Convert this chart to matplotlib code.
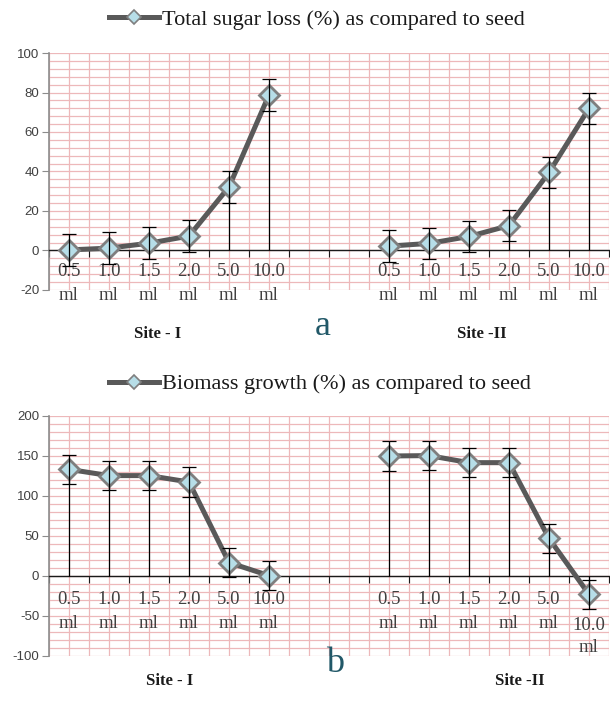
import matplotlib
matplotlib.use('Agg')
import matplotlib.pyplot as plt
import matplotlib.transforms as mtransforms
from matplotlib.lines import Line2D
from matplotlib.ticker import MultipleLocator

plt.rcParams['axes.unicode_minus'] = False

# categories: 6 doses per site, two empty slots between the sites
doses = ['0.5', '1.0', '1.5', '2.0', '5.0', '10.0']
site1_pos = [0, 1, 2, 3, 4, 5]
site2_pos = [8, 9, 10, 11, 12, 13]

# panel a: total sugar loss (%)
sugar_site1 = [0.3, 1.2, 3.7, 7.3, 32.2, 78.8]
sugar_site2 = [2.2, 3.6, 7.1, 12.6, 39.5, 72.0]
sugar_err = 8.0

# panel b: biomass growth (%)
bio_site1 = [133.3, 125.5, 125.5, 117.5, 16.8, 0.5]
bio_site2 = [150.0, 150.5, 141.7, 141.7, 47.0, -23.0]
bio_err = 18.5

LINE_C = '#595959'
FILL_C = '#B7DEE8'
EDGE_C = '#7F7F7F'
GRID_C = '#EDB8BA'
TEXT_C = '#404040'
SERIF = 'Liberation Serif'

W, H = 610, 704
fig = plt.figure(figsize=(W / 100, H / 100), dpi=100)


def px_axes(left, top, right, bottom):
    return fig.add_axes([left / W, 1 - bottom / H, (right - left) / W, (bottom - top) / H])


def draw_panel(ax, s1, s2, err, ylim, major, minor, legend_text, leg_xy,
               lab_y, low_last=None):
    ax.set_xlim(-0.5, 13.5)
    ax.set_ylim(*ylim)
    ax.yaxis.set_major_locator(MultipleLocator(major))
    ax.yaxis.set_minor_locator(MultipleLocator(minor))
    ax.xaxis.set_major_locator(MultipleLocator(1.0, offset=0.5))
    ax.xaxis.set_minor_locator(MultipleLocator(0.5))
    ax.grid(True, which='both', color=GRID_C, lw=0.9, zorder=0)
    ax.set_axisbelow(True)
    for s in ['top', 'right']:
        ax.spines[s].set_visible(False)
    ax.spines['left'].set_color('#8C8C8C')
    ax.spines['left'].set_linewidth(1.2)
    ax.spines['bottom'].set_position(('data', 0))
    ax.spines['bottom'].set_color('#1A1A1A')
    ax.spines['bottom'].set_linewidth(1.0)
    ax.tick_params(axis='y', which='major', length=5, color='#8C8C8C',
                   labelsize=9.5, labelcolor=TEXT_C, pad=2)
    ax.tick_params(axis='x', which='major', length=5, color='#1A1A1A',
                   direction='out', labelbottom=False)
    ax.tick_params(which='minor', length=0)
    for lab in ax.get_yticklabels():
        lab.set_family('Liberation Sans')

    for pos, vals in [(site1_pos, s1), (site2_pos, s2)]:
        ax.vlines(pos, 0, vals, color='black', lw=0.9, zorder=3)
        ax.plot(pos, vals, color=LINE_C, lw=3.6, zorder=4, solid_capstyle='round')
        ax.plot(pos, vals, ls='none', marker='D', ms=10, mfc=FILL_C,
                mec=EDGE_C, mew=2.0, zorder=5)
        ax.errorbar(pos, vals, yerr=err, fmt='none', ecolor='black',
                    elinewidth=0.9, capsize=4.7, capthick=0.9, zorder=6)

    trans = mtransforms.blended_transform_factory(ax.transData, fig.transFigure)
    for pos in (site1_pos, site2_pos):
        for x, d in zip(pos, doses):
            y1, y2 = lab_y
            if low_last is not None and x == site2_pos[-1]:
                y1, y2 = low_last
            ax.text(x, 1 - y1 / H, d, transform=trans, ha='center', va='center',
                    family=SERIF, fontsize=13.5, color=TEXT_C)
            ax.text(x, 1 - y2 / H, 'ml', transform=trans, ha='center', va='center',
                    family=SERIF, fontsize=13.5, color=TEXT_C)

    handle = Line2D([], [], color=LINE_C, lw=3.6, marker='D', ms=7,
                    mfc=FILL_C, mec=EDGE_C, mew=1.2)
    ax.legend(handles=[handle], labels=[legend_text], loc='center',
              bbox_to_anchor=(leg_xy[0] / W, 1 - leg_xy[1] / H),
              bbox_transform=fig.transFigure, frameon=False,
              prop={'family': SERIF, 'size': 16}, handlelength=2.25,
              handletextpad=0.15, labelcolor='#1A1A1A')


ax_a = px_axes(49, 53, 609, 290)
draw_panel(ax_a, sugar_site1, sugar_site2, sugar_err, (-20, 100), 20, 4,
           'Total sugar loss (%) as compared to seed', (317, 20), (272, 296))

ax_b = px_axes(49, 416, 609, 656)
draw_panel(ax_b, bio_site1, bio_site2, bio_err, (-100, 200), 50, 10,
           'Biomass growth (%) as compared to seed', (320, 384), (600, 624),
           low_last=(626, 648))

site_font = dict(family=SERIF, fontsize=12, fontweight='bold', color='#1A1A1A',
                 ha='center', va='center')
fig.text(158 / W, 1 - 334 / H, 'Site - I', **site_font)
fig.text(482 / W, 1 - 334 / H, 'Site -II', **site_font)
fig.text(170 / W, 1 - 681 / H, 'Site - I', **site_font)
fig.text(520 / W, 1 - 681 / H, 'Site -II', **site_font)

panel_font = dict(family=SERIF, fontsize=26, color='#215868', ha='center', va='center')
fig.text(323 / W, 1 - 326 / H, 'a', **panel_font)
fig.text(335 / W, 1 - 664 / H, 'b', **panel_font)

fig.savefig('out.png', dpi=100)
